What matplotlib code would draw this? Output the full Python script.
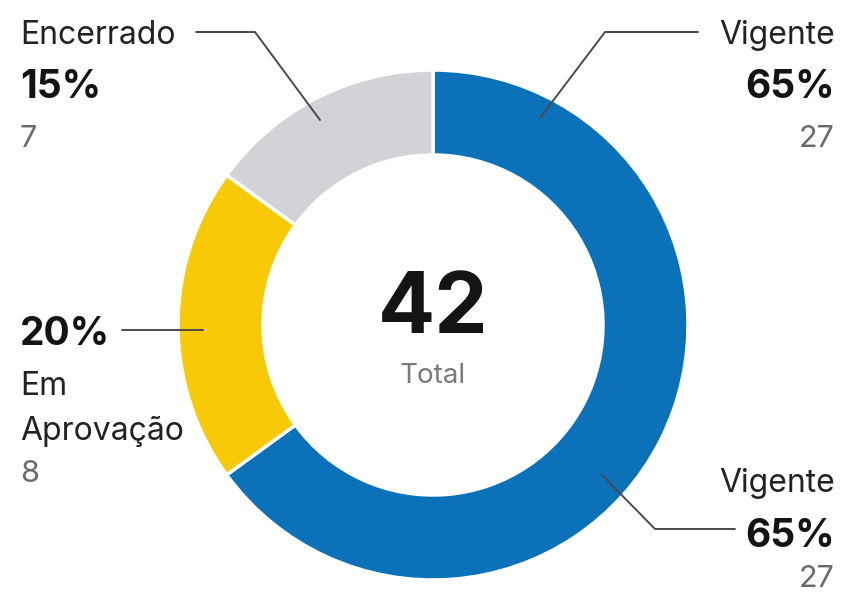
import matplotlib
matplotlib.use("Agg")
import matplotlib.pyplot as plt

# Data
categories = ["Vigente", "Em Aprovação", "Encerrado"]
percents = [65, 20, 15]
counts = [27, 8, 7]
total = 42
colors = ["#0B72B9", "#F8C906", "#D1D3D6"]

W, H = 841, 593
plt.rcParams['font.family'] = ['Inter', 'DejaVu Sans']
fig = plt.figure(figsize=(W / 100, H / 100), dpi=100)
fig.patch.set_facecolor("white")
ax = fig.add_axes([0, 0, 1, 1])
ax.set_xlim(0, W)
ax.set_ylim(0, H)
ax.set_aspect('equal')
ax.axis('off')

def Y(p):
    return H - p

cx, cy = 433, Y(325)
R = 255
ax.pie(percents, colors=colors, startangle=90, counterclock=False,
       radius=R, center=(cx, cy),
       wedgeprops=dict(width=85, edgecolor="white", linewidth=2.5))
ax.set_xlim(0, W)
ax.set_ylim(0, H)

# Center text
ax.text(cx, Y(333), str(total), ha='center', va='baseline', fontsize=61,
        fontweight='bold', color='#141414')
ax.text(cx, Y(383), "Total", ha='center', va='baseline', fontsize=20,
        color='#7a7a7a')

lc = '#4a4a4a'
lw = 1.4
def line(pts):
    xs = [p[0] for p in pts]
    ys = [Y(p[1]) for p in pts]
    ax.plot(xs, ys, color=lc, lw=lw, solid_capstyle='round')

label_c = '#222222'
pct_c = '#141414'
cnt_c = '#6a6a6a'
fs_lab, fs_pct, fs_cnt = 23, 28, 22

# Encerrado (top-left)
line([(196, 32), (255, 32), (320, 120)])
ax.text(20, Y(44), categories[2], ha='left', va='baseline', fontsize=fs_lab, color=label_c)
ax.text(20, Y(98), f"{percents[2]}%", ha='left', va='baseline', fontsize=fs_pct,
        fontweight='bold', color=pct_c)
ax.text(20, Y(147), str(counts[2]), ha='left', va='baseline', fontsize=fs_cnt, color=cnt_c)

# Vigente (top-right)
line([(698, 32), (605, 32), (540, 118)])
ax.text(835, Y(44), categories[0], ha='right', va='baseline', fontsize=fs_lab, color=label_c)
ax.text(835, Y(98), f"{percents[0]}%", ha='right', va='baseline', fontsize=fs_pct,
        fontweight='bold', color=pct_c)
ax.text(835, Y(147), str(counts[0]), ha='right', va='baseline', fontsize=fs_cnt, color=cnt_c)

# Em Aprovação (left)
line([(122, 330), (203, 330)])
ax.text(20, Y(345), f"{percents[1]}%", ha='left', va='baseline', fontsize=fs_pct,
        fontweight='bold', color=pct_c)
ax.text(20, Y(395), "Em", ha='left', va='baseline', fontsize=fs_lab, color=label_c)
ax.text(20, Y(440), "Aprovação", ha='left', va='baseline', fontsize=fs_lab, color=label_c)
ax.text(20, Y(482), str(counts[1]), ha='left', va='baseline', fontsize=fs_cnt, color=cnt_c)

# Vigente (bottom-right)
line([(602, 475), (655, 529), (735, 529)])
ax.text(835, Y(492), categories[0], ha='right', va='baseline', fontsize=fs_lab, color=label_c)
ax.text(835, Y(547), f"{percents[0]}%", ha='right', va='baseline', fontsize=fs_pct,
        fontweight='bold', color=pct_c)
ax.text(835, Y(587), str(counts[0]), ha='right', va='baseline', fontsize=fs_cnt, color=cnt_c)

fig.savefig("out.png", dpi=100, facecolor="white")
